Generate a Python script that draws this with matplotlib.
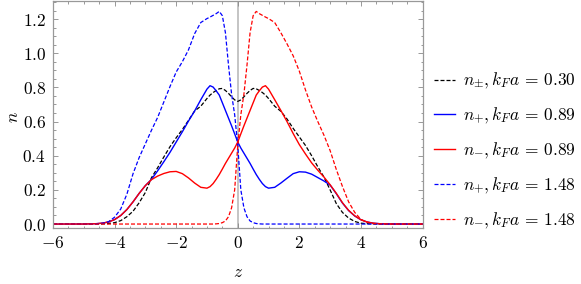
import matplotlib
matplotlib.use("Agg")
from matplotlib import pyplot as plt
from matplotlib.ticker import MultipleLocator, FuncFormatter

plt.rcParams['mathtext.fontset'] = 'cm'
plt.rcParams['font.family'] = ['DejaVu Serif']

# z grid shared by all curves
z = [-6.0, -5.0, -4.6, -4.4, -4.2, -4.0, -3.8, -3.6, -3.4, -3.2, -3.0, -2.8, -2.6, -2.4,
     -2.2, -2.0, -1.8, -1.6, -1.4, -1.2, -1.0, -0.9, -0.8, -0.7, -0.6, -0.5, -0.4, -0.3,
     -0.2, -0.1, 0.0, 0.1, 0.2, 0.3, 0.4, 0.5, 0.6, 0.7, 0.8, 0.9, 1.0, 1.2, 1.4, 1.6,
     1.8, 2.0, 2.2, 2.4, 2.6, 2.8, 3.0, 3.2, 3.4, 3.6, 3.8, 4.0, 4.2, 4.4, 4.6, 5.0, 6.0]

# n_pm, kFa = 0.30
n_pm_030 = [0, 0, 0.0, 0.001, 0.003, 0.008, 0.02, 0.043, 0.075, 0.125, 0.185, 0.272, 0.33, 0.393,
            0.453, 0.505, 0.553, 0.607, 0.662, 0.69, 0.735, 0.755, 0.77, 0.782, 0.792, 0.794, 0.782, 0.765,
            0.745, 0.727, 0.718, 0.727, 0.745, 0.765, 0.782, 0.794, 0.792, 0.782, 0.77, 0.755, 0.735, 0.69, 0.66, 0.615,
            0.56, 0.51, 0.46, 0.40, 0.335, 0.275, 0.20, 0.12, 0.068, 0.035, 0.015, 0.005, 0.002, 0.001, 0.0, 0, 0]

# n_+, kFa = 0.89
n_p_089 = [0, 0, 0.002, 0.005, 0.012, 0.026, 0.05, 0.085, 0.13, 0.18, 0.225, 0.262, 0.312, 0.365,
           0.42, 0.48, 0.54, 0.603, 0.662, 0.728, 0.79, 0.81, 0.802, 0.78, 0.755, 0.71, 0.665, 0.62,
           0.575, 0.528, 0.48, 0.445, 0.415, 0.385, 0.355, 0.322, 0.29, 0.262, 0.237, 0.219, 0.21, 0.215, 0.24, 0.268,
           0.295, 0.306, 0.304, 0.292, 0.272, 0.252, 0.228, 0.178, 0.123, 0.079, 0.047, 0.025, 0.012, 0.005, 0.002, 0, 0]

# n_-, kFa = 0.89
n_m_089 = [0, 0, 0.002, 0.005, 0.012, 0.026, 0.05, 0.085, 0.13, 0.18, 0.225, 0.26, 0.281, 0.296,
           0.306, 0.308, 0.295, 0.27, 0.24, 0.215, 0.21, 0.219, 0.237, 0.262, 0.29, 0.322, 0.355, 0.385,
           0.415, 0.445, 0.48, 0.528, 0.575, 0.62, 0.665, 0.71, 0.755, 0.78, 0.802, 0.81, 0.79, 0.728, 0.665, 0.60,
           0.53, 0.465, 0.41, 0.358, 0.315, 0.275, 0.23, 0.18, 0.125, 0.08, 0.048, 0.025, 0.012, 0.005, 0.002, 0, 0]

# n_+, kFa = 1.48
n_p_148 = [0, 0, 0.001, 0.004, 0.013, 0.04, 0.088, 0.175, 0.295, 0.39, 0.47, 0.55, 0.625, 0.715,
           0.805, 0.89, 0.95, 1.02, 1.115, 1.18, 1.203, 1.212, 1.222, 1.232, 1.245, 1.22, 1.12, 0.93,
           0.76, 0.64, 0.46, 0.20, 0.095, 0.043, 0.018, 0.008, 0.003, 0.001, 0, 0, 0, 0, 0, 0,
           0, 0, 0, 0, 0, 0, 0, 0, 0, 0, 0, 0, 0, 0, 0, 0, 0]

# n_-, kFa = 1.48
n_m_148 = [0, 0, 0, 0, 0, 0, 0, 0, 0, 0, 0, 0, 0, 0,
           0, 0, 0, 0, 0, 0, 0, 0, 0, 0.001, 0.003, 0.008, 0.018, 0.043,
           0.095, 0.20, 0.46, 0.64, 0.76, 0.93, 1.12, 1.22, 1.245, 1.232, 1.222, 1.212, 1.203, 1.18, 1.12, 1.055,
           0.985, 0.895, 0.785, 0.685, 0.60, 0.52, 0.43, 0.32, 0.22, 0.13, 0.068, 0.027, 0.01, 0.003, 0.001, 0, 0]

labels = [r'$n_{\pm}, k_F a\,=\,0.30$', r'$n_{+}, k_F a\,=\,0.89$', r'$n_{-}, k_F a\,=\,0.89$',
          r'$n_{+}, k_F a\,=\,1.48$', r'$n_{-}, k_F a\,=\,1.48$']

fs = 12.5

fig = plt.figure(figsize=(5.81, 2.84), dpi=100)
ax = fig.add_axes([53 / 581, 1 - 228.3 / 284, 369.5 / 581, 227.3 / 284])

dash = (0, (3.2, 1.6))
ax.axvline(0, color='#b4b4b4', lw=1.1, zorder=0)
ax.plot(z, n_pm_030, color='black', lw=0.9, ls=dash, label=labels[0])
ax.plot(z, n_p_089, color='blue', lw=1.0, label=labels[1])
ax.plot(z, n_m_089, color='red', lw=1.0, label=labels[2])
ax.plot(z, n_p_148, color='blue', lw=0.9, ls=dash, label=labels[3])
ax.plot(z, n_m_148, color='red', lw=0.9, ls=dash, label=labels[4])

ax.set_xlim(-6, 6)
ax.set_ylim(-0.025, 1.306)

ax.xaxis.set_major_locator(MultipleLocator(2))
ax.xaxis.set_minor_locator(MultipleLocator(0.5))
ax.yaxis.set_major_locator(MultipleLocator(0.2))
ax.yaxis.set_minor_locator(MultipleLocator(0.05))
ax.xaxis.set_major_formatter(FuncFormatter(lambda v, p: r'$%d$' % round(v)))
ax.yaxis.set_major_formatter(FuncFormatter(lambda v, p: r'$%.1f$' % v))

for side in ['top', 'right', 'left', 'bottom']:
    ax.spines[side].set_color('#999999')
    ax.spines[side].set_linewidth(0.9)
ax.tick_params(which='both', direction='in', top=True, right=True, color='#888888', width=0.6)
ax.tick_params(which='major', length=3.5, labelsize=fs, pad=5)
ax.tick_params(which='minor', length=1.8)

ax.set_xlabel(r'$z$', fontsize=fs)
ax.set_ylabel(r'$n$', fontsize=fs, rotation=90)
ax.xaxis.set_label_coords(0.5, -0.155)
ax.yaxis.set_label_coords(-0.085, 0.49)

fig.legend(loc='center left', bbox_to_anchor=(434 / 581, 1 - 151 / 284), frameon=False,
           fontsize=fs, handlelength=1.2, handletextpad=0.45, labelspacing=0.85,
           borderpad=0, borderaxespad=0)

fig.savefig('out.png', dpi=100)
